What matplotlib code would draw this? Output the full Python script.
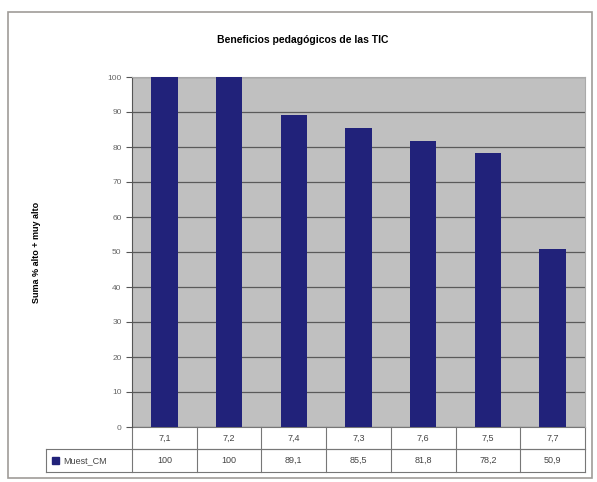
import matplotlib
matplotlib.use("Agg")
import matplotlib.pyplot as plt
from matplotlib.patches import Rectangle
from matplotlib.lines import Line2D
from matplotlib import transforms

plt.rcParams['font.family'] = ['Liberation Sans', 'DejaVu Sans']

items = ["7,1", "7,2", "7,4", "7,3", "7,6", "7,5", "7,7"]
values = [100, 100, 89.1, 85.5, 81.8, 78.2, 50.9]
value_labels = ["100", "100", "89,1", "85,5", "81,8", "78,2", "50,9"]
series_name = "Muest_CM"

W, H = 597, 482
fig = plt.figure(figsize=(W / 100, H / 100), dpi=100)

# outer chart frame
fig.add_artist(Rectangle((8 / W, 1 - 478 / H), 584 / W, 466 / H, transform=fig.transFigure,
                         fill=False, edgecolor="#a09c98", linewidth=1.2))

ax = fig.add_axes([132 / W, 1 - 427 / H, 453 / W, 350 / H])
ax.set_facecolor("#c0c0c0")
x = range(len(items))
ax.bar(x, values, width=0.41, color="#21227a", zorder=3)
ax.set_xlim(-0.5, len(items) - 0.5)
ax.set_ylim(0, 100)
ax.set_yticks(range(0, 101, 10))
ax.yaxis.grid(True, color="#5a5a5a", linewidth=0.9, zorder=1)
ax.tick_params(axis="y", labelsize=6, colors="#555555", length=4, width=0.8, labelcolor="#666666")
ax.set_xticks([])
for s in ["top", "right"]:
    ax.spines[s].set_color("#aaaaaa")
ax.spines["left"].set_color("#555555")
ax.spines["bottom"].set_visible(False)

ax.set_ylabel("Suma % alto + muy alto", fontsize=6.5, fontweight="bold", labelpad=48)
fig.text(303 / W, 1 - 40 / H, "Beneficios pedagógicos de las TIC", ha="center", va="center",
         fontsize=7.5, fontweight="bold")

# data table under the plot
tr = transforms.blended_transform_factory(ax.transData, ax.transAxes)
r1 = -22 / 350
r2 = -45 / 350
xl = -0.5 - 86 / (453 / len(items))
lc = "#777777"
lines = [((-0.5, len(items) - 0.5), (0, 0)),
         ((-0.5, len(items) - 0.5), (r1, r1)),
         ((xl, len(items) - 0.5), (r1, r1)),
         ((xl, len(items) - 0.5), (r2, r2)),
         ((xl, xl), (r1, r2))]
for i in range(len(items) + 1):
    lines.append(((i - 0.5, i - 0.5), (0, r2)))
for xs, ys in lines:
    ax.add_line(Line2D(xs, ys, transform=tr, color=lc, linewidth=0.8, clip_on=False))
for i, (it, vl) in enumerate(zip(items, value_labels)):
    ax.text(i, r1 / 2, it, transform=tr, ha="center", va="center", fontsize=6.5, color="#444444")
    ax.text(i, (r1 + r2) / 2, vl, transform=tr, ha="center", va="center", fontsize=6.5, color="#444444")
ax.add_patch(Rectangle((xl + 0.1, (r1 + r2) / 2 - 0.009), 0.1, 0.018, transform=tr,
                       color="#21227a", clip_on=False))
ax.text(xl + 0.26, (r1 + r2) / 2, series_name, transform=tr, ha="left", va="center",
        fontsize=6.5, color="#444444")

fig.savefig("out.png", dpi=100)
